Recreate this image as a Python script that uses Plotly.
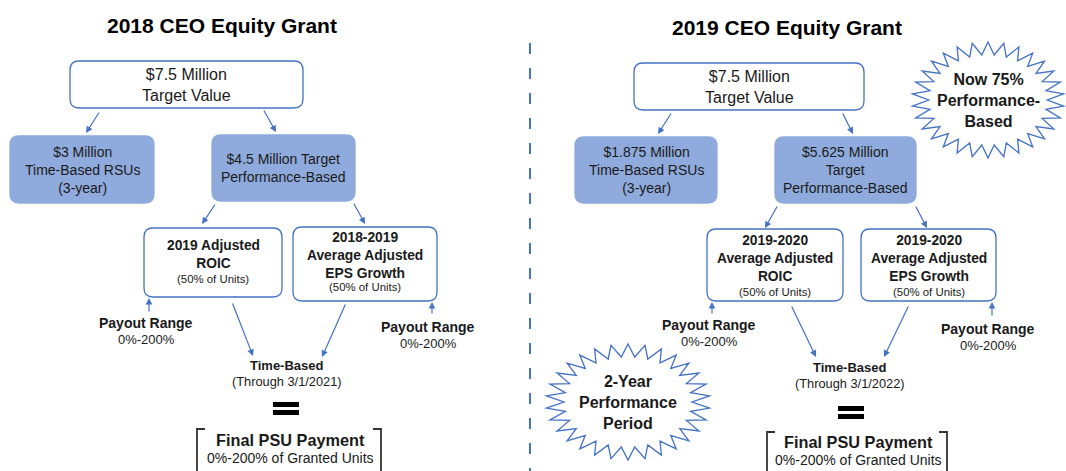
import numpy as np
import plotly.graph_objects as go

# ---- text content (two panels: 2018 grant, 2019 grant) ----
TITLES = ["2018 CEO Equity Grant", "2019 CEO Equity Grant"]
TARGET_VALUE = ["$7.5 Million<br>Target Value", "$7.5 Million<br>Target Value"]
TIME_RSU = ["$3 Million<br>Time-Based RSUs<br>(3-year)",
            "$1.875 Million<br>Time-Based RSUs<br>(3-year)"]
PERF_BASED = ["$4.5 Million Target<br>Performance-Based",
              "$5.625 Million<br>Target<br>Performance-Based"]
METRIC_A = ["2019 Adjusted<br>ROIC", "2019-2020<br>Average Adjusted<br>ROIC"]
METRIC_B = ["2018-2019<br>Average Adjusted<br>EPS Growth",
            "2019-2020<br>Average Adjusted<br>EPS Growth"]
UNIT_SHARE = ["(50% of Units)", "(50% of Units)"]
PAYOUT_LABEL = ["Payout Range", "0%-200%"]
VESTING = ["(Through 3/1/2021)", "(Through 3/1/2022)"]
FINAL_LABEL = ["Final PSU Payment", "0%-200% of Granted Units"]
BURST_TEXT = ["Now 75%<br>Performance-<br>Based", "2-Year<br>Performance<br>Period"]

# ---- layout geometry (pixel space, y grows downward) ----
PANELS = [
    dict(title=(222, 25), top=(70, 61, 303, 108),
         top_arrows=[((100, 111), (86, 133)), ((263, 109), (276, 132))],
         rsu=(10, 136, 154, 203), perf=(212, 135, 355, 201),
         perf_arrows=[((216, 203), (202, 224)), ((353, 202), (365, 224))],
         ma=(144, 228, 282, 297), ma_txt=(254, 279),
         mb=(293, 227, 437, 301), mb_txt=(255, 287),
         pay=[((149, 313), (149, 298), (146, 323)), ((432, 315), (432, 302), (428, 327))],
         to_time=[((232, 302), (253, 356)), ((346, 303), (322, 357))],
         time=(287, 365), eq=(273, 402, 299, 415),
         br=(197, 381, 429), final=(290, 440)),
    dict(title=(787, 27), top=(634, 63, 864, 110),
         top_arrows=[((672, 112), (658, 134)), ((842, 112), (853, 134))],
         rsu=(575, 137, 717, 203), perf=(775, 137, 916, 203),
         perf_arrows=[((778, 205), (765, 228)), ((915, 205), (927, 228))],
         ma=(707, 229, 843, 301), ma_txt=(258, 292),
         mb=(861, 229, 996, 301), mb_txt=(258, 292),
         pay=[((712, 315), (712, 302), (709, 325)), ((992, 317), (992, 302), (988, 329))],
         to_time=[((791, 305), (816, 357)), ((909, 305), (884, 357))],
         time=(850, 367), eq=(838, 406, 864, 419),
         br=(767, 947, 432), final=(858, 442)),
]
BURSTS = [(988, 100, 76, 58), (628, 402, 82, 58)]

W, H = 1066, 471
BLUE = "#4472C4"
FILL = "#8FAADC"
INK = "#1a1a1a"
FONT = "Arial, 'Liberation Sans', sans-serif"

fig = go.Figure()


def rounded(x0, y0, x1, y1, r=9):
    return (f"M{x0+r},{y0} L{x1-r},{y0} Q{x1},{y0} {x1},{y0+r} L{x1},{y1-r} "
            f"Q{x1},{y1} {x1-r},{y1} L{x0+r},{y1} Q{x0},{y1} {x0},{y1-r} "
            f"L{x0},{y0+r} Q{x0},{y0} {x0+r},{y0} Z")


def box(b, filled=False):
    fig.add_shape(type="path", path=rounded(*b), xref="x", yref="y",
                  line=dict(color=FILL if filled else BLUE, width=1.3),
                  fillcolor=FILL if filled else "white", layer="below")


def text(x, y, s, size=13, bold=False, color=INK):
    fig.add_annotation(x=x, y=y, xref="x", yref="y", showarrow=False,
                       text=f"<b>{s}</b>" if bold else s, align="center",
                       font=dict(family=FONT, size=size, color=color))


def arrow(tail, head):
    fig.add_annotation(x=head[0], y=head[1], ax=tail[0], ay=tail[1],
                       xref="x", yref="y", axref="x", ayref="y", text="",
                       showarrow=True, arrowhead=2, arrowsize=1.1,
                       arrowwidth=1.2, arrowcolor=BLUE)


def center(b):
    return (b[0] + b[2]) / 2, (b[1] + b[3]) / 2


for i, p in enumerate(PANELS):
    text(*p["title"], TITLES[i], size=21, bold=True, color="#000")

    box(p["top"])
    text(*center(p["top"]), TARGET_VALUE[i], size=16)
    for t, h in p["top_arrows"]:
        arrow(t, h)

    box(p["rsu"], filled=True)
    text(*center(p["rsu"]), TIME_RSU[i], size=14)
    box(p["perf"], filled=True)
    text(*center(p["perf"]), PERF_BASED[i], size=14)
    for t, h in p["perf_arrows"]:
        arrow(t, h)

    for key, txt, ty in (("ma", METRIC_A[i], p["ma_txt"]), ("mb", METRIC_B[i], p["mb_txt"])):
        b = p[key]
        box(b)
        cx = (b[0] + b[2]) / 2
        text(cx, ty[0], txt, size=13.8, bold=True)
        text(cx, ty[1], UNIT_SHARE[i], size=11.4)

    for t, h, lab in p["pay"]:
        arrow(t, h)
        text(lab[0], lab[1], PAYOUT_LABEL[0], size=14, bold=True)
        text(lab[0], lab[1] + 16, PAYOUT_LABEL[1], size=13)

    for t, h in p["to_time"]:
        arrow(t, h)
    tx, ty = p["time"]
    text(tx, ty, "Time-Based", size=13, bold=True)
    text(tx, ty + 16, VESTING[i], size=12.8)

    x0, y0, x1, y1 = p["eq"]
    mid = (y0 + y1) / 2
    fig.add_shape(type="rect", x0=x0, x1=x1, y0=y0, y1=mid - 1.5, fillcolor="#000", line_width=0)
    fig.add_shape(type="rect", x0=x0, x1=x1, y0=mid + 1.5, y1=y1, fillcolor="#000", line_width=0)

    bl, brx, bt = p["br"]
    fig.add_shape(type="path", path=f"M{bl+8},{bt} L{bl},{bt} L{bl},{H+5}",
                  line=dict(color="#333", width=1.8))
    fig.add_shape(type="path", path=f"M{brx-8},{bt} L{brx},{bt} L{brx},{H+5}",
                  line=dict(color="#333", width=1.8))
    fx, fy = p["final"]
    text(fx, fy, FINAL_LABEL[0], size=16.3, bold=True)
    text(fx, fy + 18, FINAL_LABEL[1], size=14)

# starbursts
n_spikes = 30
ang = np.linspace(0, 2 * np.pi, 2 * n_spikes, endpoint=False) - np.pi / 2
rad = np.where(np.arange(2 * n_spikes) % 2 == 0, 1.0, 0.78)
for (cx, cy, rx, ry), s in zip(BURSTS, BURST_TEXT):
    pts = [(cx + rx * r * np.cos(a), cy + ry * r * np.sin(a)) for a, r in zip(ang, rad)]
    path = "M" + " L".join(f"{x:.1f},{y:.1f}" for x, y in pts) + " Z"
    fig.add_shape(type="path", path=path, line=dict(color=BLUE, width=1.3),
                  fillcolor="white", layer="below")
    text(cx, cy, s, size=16, bold=True)

# divider
fig.add_shape(type="line", x0=530, x1=530, y0=43, y1=H,
              line=dict(color=BLUE, width=2, dash="11px,14px"))

fig.update_xaxes(range=[0, W], visible=False, fixedrange=True)
fig.update_yaxes(range=[H, 0], visible=False, fixedrange=True)
fig.update_layout(width=W, height=H, margin=dict(l=0, r=0, t=0, b=0),
                  plot_bgcolor="white", paper_bgcolor="white", showlegend=False)

fig.write_html("out.html", config={"displayModeBar": False},
               post_script="document.body.style.margin='0';")
